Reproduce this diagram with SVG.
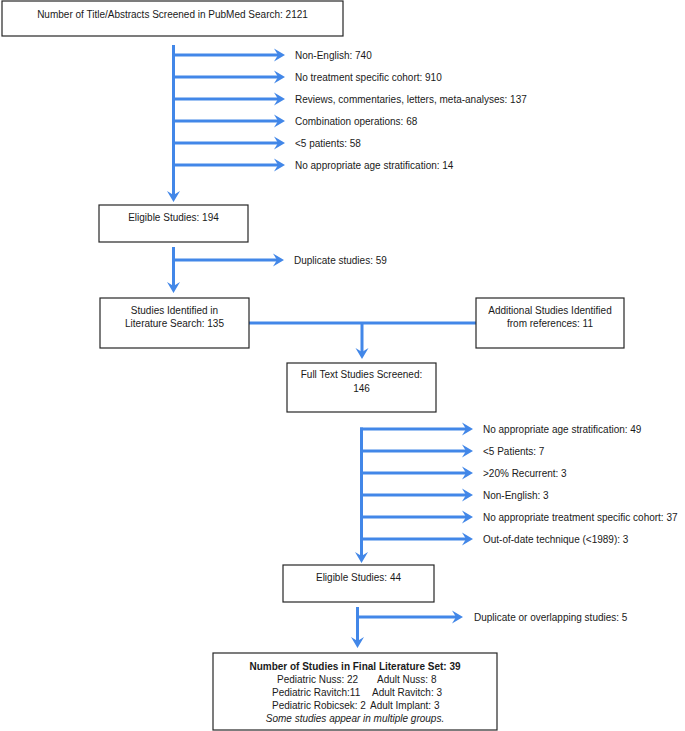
<svg xmlns="http://www.w3.org/2000/svg" width="685" height="731" viewBox="0 0 685 731">
<defs>
<style>
.box{fill:#fff;stroke:#262626;stroke-width:1.2}
.t{font-family:"Liberation Sans",Arial,sans-serif;font-size:10px;fill:#1a1a1a}
.c{text-anchor:middle}
.b{font-weight:bold}
.i{font-style:italic}
.ln{fill:none;stroke:#4287e8;stroke-width:3;marker-end:url(#ah)}
.pl{fill:none;stroke:#4287e8;stroke-width:3}
</style>
<marker id="ah" markerUnits="userSpaceOnUse" markerWidth="14" markerHeight="16" viewBox="-12 -8 14 16" refX="-6" refY="0" orient="auto">
<path d="M0,0 L-11,-6.5 L-7,0 L-11,6.5 Z" fill="#4287e8"/>
</marker>
</defs>
<rect width="685" height="731" fill="#fff"/>

<g id="connectors">
<path class="ln" d="M173.5,45 V196"/>
<path class="ln" d="M172,55 H279"/>
<path class="ln" d="M172,77 H279"/>
<path class="ln" d="M172,99 H279"/>
<path class="ln" d="M172,121 H279"/>
<path class="ln" d="M172,143 H279"/>
<path class="ln" d="M172,165 H279"/>

<path class="ln" d="M173.5,247 V287"/>
<path class="ln" d="M172,260 H278"/>

<path class="pl" d="M249,323 H476"/>
<path class="ln" d="M362,323 V353"/>

<path class="ln" d="M361.5,427.5 V557"/>
<path class="ln" d="M360,429 H467"/>
<path class="ln" d="M360,451 H467"/>
<path class="ln" d="M360,473 H467"/>
<path class="ln" d="M360,495 H467"/>
<path class="ln" d="M360,517 H467"/>
<path class="ln" d="M360,539 H467"/>

<path class="ln" d="M357.5,607 V642"/>
<path class="ln" d="M356,617 H457"/>
</g>

<g id="n_search">
<rect class="box" x="2" y="1" width="341" height="35"/>
<text class="t c" x="172.5" y="17.5">Number of Title/Abstracts Screened in PubMed Search: 2121</text>
</g>

<g id="n_excl1">
<text class="t" x="295" y="58.5">Non-English: 740</text>
<text class="t" x="295" y="80.5">No treatment specific cohort: 910</text>
<text class="t" x="295" y="102.5">Reviews, commentaries, letters, meta-analyses: 137</text>
<text class="t" x="295" y="124.5">Combination operations: 68</text>
<text class="t" x="295" y="146.5">&lt;5 patients: 58</text>
<text class="t" x="295" y="168.5">No appropriate age stratification: 14</text>
</g>

<g id="n_eligible194">
<rect class="box" x="99" y="205" width="149" height="37"/>
<text class="t c" x="173.5" y="220.5">Eligible Studies: 194</text>
</g>

<g id="n_dup59">
<text class="t" x="294" y="263.5">Duplicate studies: 59</text>
</g>

<g id="n_identified">
<rect class="box" x="100" y="298" width="149" height="50"/>
<text class="t c" x="174.5" y="313.5">Studies Identified in</text>
<text class="t c" x="174.5" y="326.5">Literature Search: 135</text>
</g>

<g id="n_additional">
<rect class="box" x="476" y="298" width="148" height="50"/>
<text class="t c" x="550" y="313.5">Additional Studies Identified</text>
<text class="t c" x="550" y="326.5">from references: 11</text>
</g>

<g id="n_fulltext">
<rect class="box" x="287" y="363" width="149" height="49"/>
<text class="t c" x="361.5" y="377.5">Full Text Studies Screened:</text>
<text class="t c" x="361.5" y="391.5">146</text>
</g>

<g id="n_excl2">
<text class="t" x="483" y="432.5">No appropriate age stratification: 49</text>
<text class="t" x="483" y="454.5">&lt;5 Patients: 7</text>
<text class="t" x="483" y="476.5">&gt;20% Recurrent: 3</text>
<text class="t" x="483" y="498.5">Non-English: 3</text>
<text class="t" x="483" y="520.5">No appropriate treatment specific cohort: 37</text>
<text class="t" x="483" y="542.5">Out-of-date technique (&lt;1989): 3</text>
</g>

<g id="n_eligible44">
<rect class="box" x="283" y="565" width="151" height="37"/>
<text class="t c" x="358.5" y="580.5">Eligible Studies: 44</text>
</g>

<g id="n_dup5">
<text class="t" x="474" y="620.5">Duplicate or overlapping studies: 5</text>
</g>

<g id="n_final">
<rect class="box" x="213" y="653" width="284" height="77"/>
<text class="t c b" x="355" y="669.5">Number of Studies in Final Literature Set: 39</text>
<text class="t" x="277" y="682.5">Pediatric Nuss: 22</text>
<text class="t" x="377" y="682.5">Adult Nuss: 8</text>
<text class="t" x="272" y="695.5">Pediatric Ravitch:11</text>
<text class="t" x="372" y="695.5">Adult Ravitch: 3</text>
<text class="t" x="272" y="708.5">Pediatric Robicsek: 2</text>
<text class="t" x="370" y="708.5">Adult Implant: 3</text>
<text class="t c i" x="355" y="721.5">Some studies appear in multiple groups.</text>
</g>
</svg>
